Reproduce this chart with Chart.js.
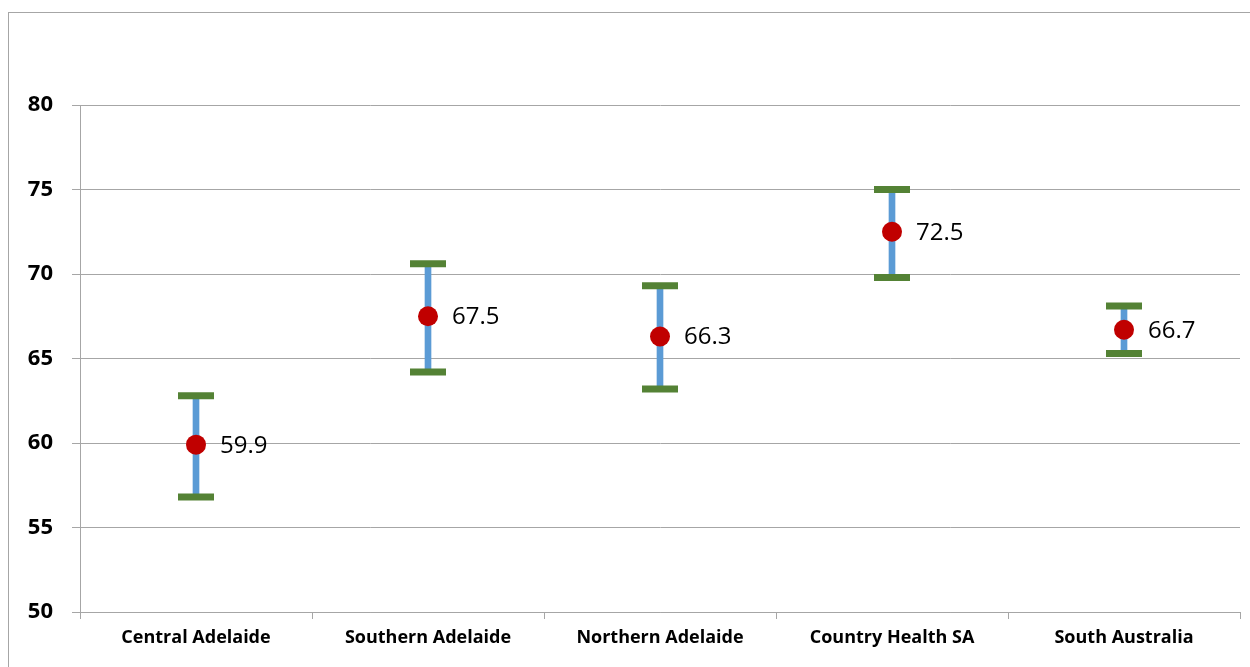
<!DOCTYPE html>
<html>
<head>
<meta charset="utf-8">
<script src="https://cdn.jsdelivr.net/npm/chart.js@4.4.1/dist/chart.umd.min.js"></script>
<style>
  html, body { margin: 0; padding: 0; background: #fff; overflow: hidden; }
  #wrap { position: relative; width: 1250px; height: 667px; }
  #frame { position: absolute; left: 8px; top: 12px; width: 1300px; height: 700px; border: 1px solid #a6a6a6; }
  canvas { position: absolute; left: 0; top: 0; }
</style>
</head>
<body>
<div id="wrap">
  <div id="frame"></div>
  <canvas id="chart" width="1250" height="667"></canvas>
</div>
<script>
const regions = ["Central Adelaide", "Southern Adelaide", "Northern Adelaide", "Country Health SA", "South Australia"];
const means = [59.9, 67.5, 66.3, 72.5, 66.7];
const lower = [56.8, 64.2, 63.2, 69.8, 65.3];
const upper = [62.8, 70.6, 69.3, 75.0, 68.1];

const fontFamily = "'Open Sans', 'Liberation Sans', sans-serif";

// draws the value text to the right of each red point
const valueLabels = {
  id: "valueLabels",
  afterDatasetsDraw(chart) {
    const meta = chart.getDatasetMeta(0);
    const ctx = chart.ctx;
    ctx.save();
    ctx.font = "24px " + fontFamily;
    ctx.fillStyle = "#000";
    ctx.textAlign = "left";
    ctx.textBaseline = "middle";
    meta.data.forEach((pt, i) => {
      ctx.fillText(means[i].toFixed(1), pt.x + 24, pt.y + 1);
    });
    ctx.restore();
  },
};

const ctx = document.getElementById("chart").getContext("2d");
const chart = new Chart(ctx, {
  data: {
    labels: regions,
    datasets: [
      {
        type: "line",
        label: "Mean",
        data: means,
        showLine: false,
        pointRadius: 10,
        pointBackgroundColor: "#C00000",
        pointBorderColor: "#C00000",
        pointBorderWidth: 0,
        order: 0,
      },
      {
        type: "line",
        label: "Upper",
        data: upper,
        showLine: false,
        pointStyle: "line",
        pointRadius: 18,
        pointBorderColor: "#548235",
        pointBorderWidth: 7,
        order: 1,
      },
      {
        type: "line",
        label: "Lower",
        data: lower,
        showLine: false,
        pointStyle: "line",
        pointRadius: 18,
        pointBorderColor: "#548235",
        pointBorderWidth: 7,
        order: 1,
      },
      {
        type: "bar",
        label: "Range",
        data: lower.map((lo, i) => [lo, upper[i]]),
        backgroundColor: "#5B9BD5",
        barThickness: 6,
        order: 2,
      },
    ],
  },
  options: {
    responsive: false,
    animation: false,
    layout: {
      padding: { left: 8, right: 10, top: 105, bottom: 0 },
    },
    plugins: {
      legend: { display: false },
      tooltip: { enabled: false },
    },
    scales: {
      x: {
        offset: true,
        grid: {
          offset: true,
          drawOnChartArea: false,
          drawTicks: true,
          tickLength: 7,
          color: "#a6a6a6",
        },
        border: { color: "#a6a6a6" },
        ticks: {
          color: "#000",
          font: { family: fontFamily, size: 18, weight: "bold" },
          padding: 8,
          maxRotation: 0,
        },
        afterFit(scale) {
          scale.height = 55;
        },
      },
      y: {
        min: 50,
        max: 80,
        ticks: {
          stepSize: 5,
          color: "#000",
          font: { family: fontFamily, size: 22, weight: "bold" },
          padding: 19,
        },
        grid: {
          color: "#a6a6a6",
          tickLength: 8,
        },
        border: { color: "#a6a6a6" },
        afterFit(scale) {
          scale.width = 72;
        },
      },
    },
  },
  plugins: [valueLabels],
});

// the wide cap markers would otherwise push the plot area in from the right
chart.data.datasets.forEach((ds, i) => {
  chart.getDatasetMeta(i).controller.getMaxOverflow = () => 0;
});
chart.update();
</script>
</body>
</html>
